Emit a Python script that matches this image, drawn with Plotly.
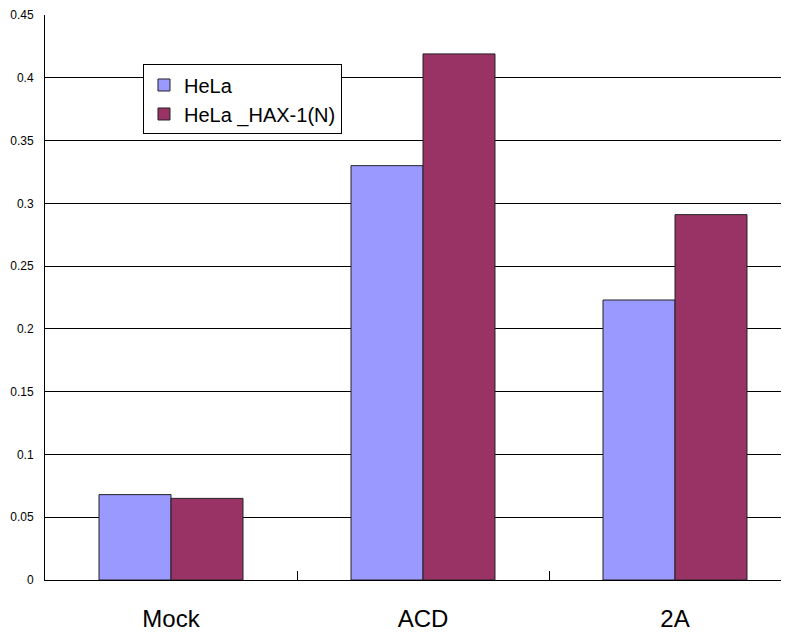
import plotly.graph_objects as go

categories = ["Mock", "ACD", "2A"]
hela = [0.068, 0.330, 0.223]
hela_hax = [0.065, 0.419, 0.291]
y_ticks = [0, 0.05, 0.1, 0.15, 0.2, 0.25, 0.3, 0.35, 0.4, 0.45]
y_tick_text = ["0", "0.05", "0.1", "0.15", "0.2", "0.25", "0.3", "0.35", "0.4", "0.45"]

FONT = "Liberation Sans, Arial, sans-serif"

fig = go.Figure()
fig.add_trace(go.Bar(x=categories, y=hela, name="HeLa",
                     marker=dict(color="#9999FF", line=dict(color="#222222", width=1))))
fig.add_trace(go.Bar(x=categories, y=hela_hax, name="HeLa _HAX-1(N)",
                     marker=dict(color="#993366", line=dict(color="#222222", width=1))))

# page body has an 8px default margin, so the figure is sized/offset to compensate
fig.update_layout(
    width=781, height=626,
    margin=dict(l=37, r=0, t=7, b=54),
    paper_bgcolor="white", plot_bgcolor="white",
    barmode="group", bargap=0.4286, bargroupgap=0,
    font=dict(family=FONT, color="black"),
    legend=dict(x=0.1317, y=0.9124, xanchor="left", yanchor="top",
                bgcolor="white", bordercolor="black", borderwidth=1,
                font=dict(size=20, family=FONT), tracegroupgap=0),
    xaxis=dict(range=[-0.5, 2.4524], showline=True, linecolor="black", linewidth=1,
               tickson="boundaries", ticks="inside", ticklen=9, tickcolor="black",
               tickfont=dict(size=24, family=FONT), ticklabelstandoff=17,
               showgrid=False, fixedrange=True, automargin=False),
    yaxis=dict(range=[0, 0.45], tickvals=y_ticks, ticktext=y_tick_text,
               showline=True, linecolor="black", linewidth=1,
               showgrid=True, gridcolor="black", gridwidth=1, zeroline=False,
               ticks="", tickfont=dict(size=12, family=FONT), ticklabelstandoff=8,
               automargin=False),
)

fig.write_html("out.html")
